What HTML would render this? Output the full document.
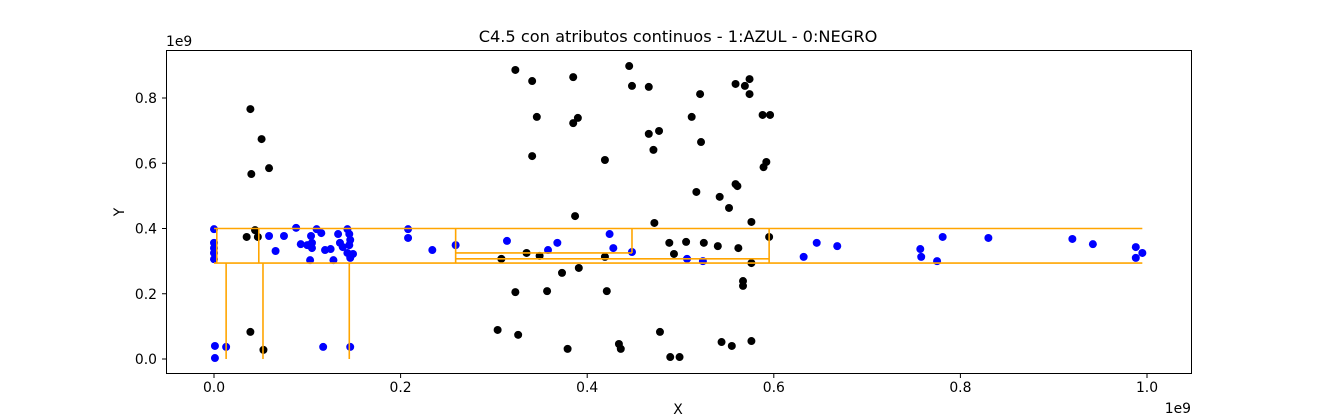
<!DOCTYPE html>
<html><head><meta charset="utf-8"><style>
body{margin:0;background:#fff;}
svg{display:block;font-family:"DejaVu Sans","Liberation Sans",sans-serif;}
</style></head><body>
<svg id="chart" width="1324" height="420" viewBox="0 0 1324 420" xmlns="http://www.w3.org/2000/svg">
<rect x="0" y="0" width="1324" height="420" fill="#fff"/>
<text x="678" y="42" font-size="16.2" text-anchor="middle">C4.5 con atributos continuos - 1:AZUL - 0:NEGRO</text>
<g id="marks"></g>
<g id="lines"></g>
<rect x="166.5" y="50.5" width="1025" height="323" fill="none" stroke="#000" stroke-width="1"/>
<g id="axes"></g>
<text x="678" y="414" font-size="13.9" text-anchor="middle">X</text>
<text x="124" y="212" font-size="13.9" text-anchor="middle" transform="rotate(-90 124 212)">Y</text>
<text x="1191" y="413" font-size="13.9" text-anchor="end">1e9</text>
<text x="166" y="46" font-size="13.9">1e9</text>
</svg>
<script>
const blueX=[0.0,0.0,0.0,0.0,0.0,0.001,0.001,0.013,0.117,0.146,0.059,0.075,0.088,0.093,0.066,0.104,0.105,0.103,0.110,0.115,0.100,0.105,0.119,0.125,0.128,0.133,0.143,0.145,0.135,0.146,0.138,0.145,0.149,0.143,0.146,0.208,0.208,0.234,0.259,0.314,0.358,0.368,0.424,0.428,0.448,0.507,0.524,0.632,0.646,0.668,0.757,0.758,0.775,0.781,0.830,0.920,0.942,0.988,0.995,0.988];
const blueY=[0.398,0.356,0.340,0.325,0.306,0.040,0.003,0.037,0.037,0.037,0.377,0.377,0.402,0.352,0.331,0.377,0.356,0.303,0.398,0.386,0.349,0.340,0.334,0.337,0.303,0.383,0.398,0.383,0.356,0.365,0.343,0.349,0.322,0.325,0.310,0.398,0.371,0.334,0.349,0.362,0.334,0.356,0.383,0.340,0.328,0.307,0.300,0.313,0.356,0.346,0.337,0.313,0.300,0.374,0.371,0.368,0.352,0.343,0.325,0.310];
const blackX=[0.039,0.051,0.040,0.059,0.044,0.035,0.047,0.039,0.053,0.323,0.341,0.385,0.445,0.448,0.466,0.521,0.559,0.569,0.574,0.574,0.346,0.390,0.385,0.512,0.588,0.596,0.466,0.477,0.522,0.341,0.419,0.471,0.592,0.589,0.559,0.561,0.517,0.542,0.552,0.387,0.472,0.576,0.595,0.308,0.335,0.349,0.419,0.488,0.493,0.506,0.525,0.540,0.562,0.576,0.373,0.391,0.323,0.357,0.421,0.567,0.567,0.304,0.326,0.379,0.434,0.436,0.478,0.489,0.499,0.544,0.555,0.576];
const blackY=[0.766,0.674,0.567,0.585,0.395,0.374,0.374,0.083,0.028,0.886,0.852,0.864,0.898,0.837,0.834,0.812,0.843,0.837,0.858,0.812,0.742,0.739,0.723,0.742,0.748,0.748,0.690,0.699,0.665,0.622,0.610,0.641,0.604,0.588,0.536,0.530,0.512,0.497,0.463,0.438,0.417,0.420,0.374,0.307,0.325,0.316,0.313,0.356,0.322,0.359,0.356,0.346,0.340,0.294,0.264,0.279,0.205,0.208,0.208,0.239,0.224,0.089,0.074,0.031,0.046,0.031,0.083,0.006,0.006,0.052,0.040,0.055];
const segX1=[0.0,0.0,0.003,0.048,0.259,0.448,0.595,0.259,0.259,0.013,0.0525,0.145];
const segY1=[0.4,0.294,0.294,0.294,0.294,0.325,0.294,0.325,0.307,0.0,0.0,0.0];
const segX2=[0.995,0.995,0.003,0.048,0.259,0.448,0.595,0.448,0.595,0.013,0.0525,0.145];
const segY2=[0.4,0.294,0.4,0.4,0.4,0.4,0.4,0.325,0.307,0.294,0.294,0.294];
const xTicks=[0,0.2,0.4,0.6,0.8,1.0];
const xTickLabels=["0.0","0.2","0.4","0.6","0.8","1.0"];
const yTicks=[0,0.2,0.4,0.6,0.8];
const yTickLabels=["0.0","0.2","0.4","0.6","0.8"];

const NS="http://www.w3.org/2000/svg";
function sx(v){return 214+v*933;}
function sy(v){return 359-v*326.25;}
function mk(tag,attrs,parent){const e=document.createElementNS(NS,tag);for(const k in attrs)e.setAttribute(k,attrs[k]);parent.appendChild(e);return e;}
const marks=document.getElementById('marks');
for(let i=0;i<blueX.length;i++){
  const c=mk('circle',{cx:sx(blueX[i]),cy:sy(blueY[i]),r:4,fill:'#0000ff'},marks);
  
  
}
for(let i=0;i<blackX.length;i++){
  const c=mk('circle',{cx:sx(blackX[i]),cy:sy(blackY[i]),r:4,fill:'#000'},marks);
  
  
}
const lines=document.getElementById('lines');
for(let i=0;i<segX1.length;i++){
  const l=mk('line',{x1:sx(segX1[i]),y1:sy(segY1[i]),x2:sx(segX2[i]),y2:sy(segY2[i]),stroke:'#ffa500','stroke-width':1.6},lines);
  
  
}
const axes=document.getElementById('axes');
for(let i=0;i<xTicks.length;i++){
  const x=sx(xTicks[i]);
  const t=mk('line',{x1:x,y1:374,x2:x,y2:378,stroke:'#000'},axes);
  
  
  const lb=mk('text',{x:x,y:392,'font-size':13.9,'text-anchor':'middle'},axes);
  lb.textContent=xTickLabels[i];
  
  
}
for(let i=0;i<yTicks.length;i++){
  const y=sy(yTicks[i]);
  const t=mk('line',{x1:162,y1:y,x2:166,y2:y,stroke:'#000'},axes);
  
  
  const lb=mk('text',{x:157,y:y+5,'font-size':13.9,'text-anchor':'end'},axes);
  lb.textContent=yTickLabels[i];
  
  
}
</script>
</body></html>
